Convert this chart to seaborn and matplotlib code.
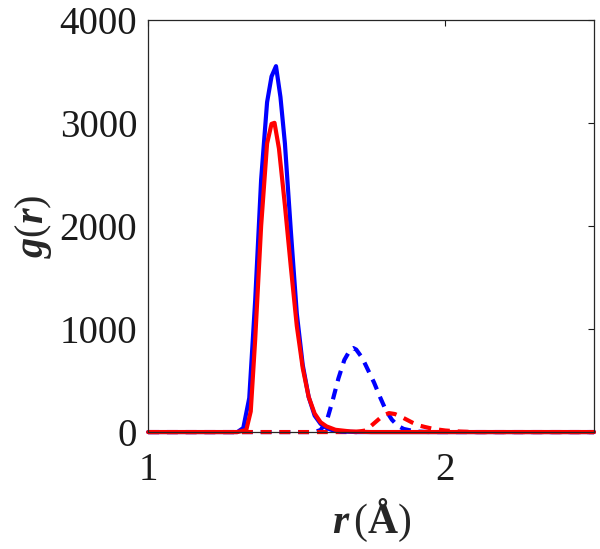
import numpy as np
import pandas as pd
import matplotlib
matplotlib.use('Agg')
import matplotlib.pyplot as plt
import seaborn as sns

# ---- data ----
r_blue_solid = [1.00, 1.30, 1.32, 1.34, 1.36, 1.38, 1.40, 1.415, 1.43, 1.445, 1.46,
                1.48, 1.50, 1.52, 1.54, 1.56, 1.58, 1.60, 1.62, 1.65, 1.70, 2.50]
g_blue_solid = [0, 0, 40, 330, 1280, 2450, 3200, 3450, 3550, 3250, 2800,
                1950, 1150, 650, 340, 160, 80, 40, 18, 6, 0, 0]

r_red_solid = [1.00, 1.30, 1.33, 1.345, 1.36, 1.38, 1.40, 1.415, 1.425, 1.44, 1.46, 1.48,
               1.50, 1.52, 1.54, 1.56, 1.58, 1.60, 1.63, 1.68, 1.75, 2.50]
g_red_solid = [0, 0, 20, 200, 900, 2000, 2800, 2990, 3000, 2750, 2200, 1600,
               1030, 620, 340, 180, 95, 55, 22, 6, 0, 0]

r_blue_dash = [1.00, 1.56, 1.58, 1.60, 1.62, 1.64, 1.66, 1.68, 1.69, 1.70, 1.72,
               1.74, 1.76, 1.78, 1.80, 1.82, 1.84, 1.86, 1.90, 1.95, 2.50]
g_blue_dash = [0, 0, 20, 100, 300, 520, 700, 800, 815, 800, 720,
               600, 480, 340, 210, 120, 60, 30, 5, 0, 0]

r_red_dash = [1.00, 1.70, 1.73, 1.75, 1.77, 1.79, 1.81, 1.83, 1.85, 1.87, 1.89,
              1.91, 1.93, 1.96, 2.00, 2.05, 2.10, 2.50]
g_red_dash = [0, 0, 15, 60, 110, 160, 184, 175, 150, 120, 90,
              65, 50, 30, 15, 5, 0, 0]

x_ticks = [1, 2]
y_ticks = [0, 1000, 2000, 3000, 4000]

sns.set_style('white')
plt.rcParams['font.family'] = ['Liberation Serif', 'DejaVu Serif']
plt.rcParams['mathtext.fontset'] = 'custom'
plt.rcParams['mathtext.rm'] = 'Liberation Serif'
plt.rcParams['mathtext.it'] = 'Liberation Serif:italic'
plt.rcParams['mathtext.bf'] = 'Liberation Serif:bold'
plt.rcParams['mathtext.bfit'] = 'Liberation Serif:italic:bold'

fig = plt.figure(figsize=(6.0, 5.49), dpi=100)
ax = fig.add_axes([0.247, 0.213, 0.743, 0.751])

lw = 3.0
series = [
    (r_blue_dash, g_blue_dash, '#0000ff', True),
    (r_red_dash, g_red_dash, '#ff0000', True),
    (r_blue_solid, g_blue_solid, '#0000ff', False),
    (r_red_solid, g_red_solid, '#ff0000', False),
]
for xs, ys, col, dashed in series:
    sns.lineplot(x=xs, y=ys, color=col, lw=lw, sort=False, estimator=None, ax=ax)
    line = ax.lines[-1]
    line.set_clip_on(False)
    line.set_solid_joinstyle('round')
    if dashed:
        line.set_dashes((2.6, 1.9))

ax.set_xlim(1, 2.5)
ax.set_ylim(0, 4000)
ax.set_xticks(x_ticks)
ax.set_yticks(y_ticks)
ax.set_xticklabels([str(t) for t in x_ticks])
ax.set_yticklabels([str(t) for t in y_ticks])
ax.tick_params(direction='in', length=4, width=0.8, top=True, right=True,
               labelsize=28, colors='#1a1a1a')
ax.tick_params(axis='x', pad=14)
ax.tick_params(axis='y', pad=8)
for s in ax.spines.values():
    s.set_visible(True)
    s.set_color('#262626')
    s.set_linewidth(0.9)

ax.set_xlabel(r'$\mathbfit{r}\,(\mathbf{Å})$', fontsize=30, labelpad=6)
ax.set_ylabel(r'$\mathbfit{g}(\mathbfit{r})$', fontsize=29, labelpad=4)

fig.savefig('out.png', dpi=100)
